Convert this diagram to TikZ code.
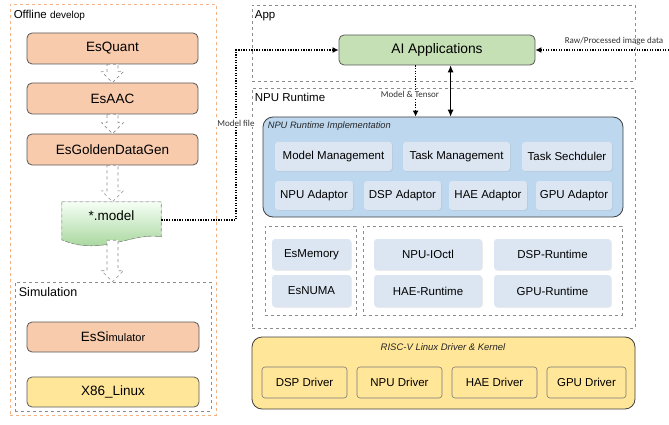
\documentclass[tikz,border=0pt]{standalone}
\usepackage{fontspec}
\setmainfont{Liberation Sans}
\newfontfamily\carl{Carlito}
\usetikzlibrary{arrows.meta,calc,shadows}
\definecolor{orfill}{HTML}{F8CBAD}
\definecolor{orline}{HTML}{F4B183}
\definecolor{grfill}{HTML}{C5E0B4}
\definecolor{blfill}{HTML}{BDD7EE}
\definecolor{inblue}{HTML}{DCE6F2}
\definecolor{yefill}{HTML}{FFE699}
\definecolor{dashgray}{HTML}{8C8C8C}
\definecolor{edge}{HTML}{595959}
\newcommand\hollowarr[2]{%
  \draw[hollow] let \p1=(#1), \p2=(#2) in
    (\x1-5.5pt,\y1) -- (\x1+5.5pt,\y1) -- (\x1+5.5pt,\y2+11pt) -- (\x1+11pt,\y2+11pt)
    -- (\x1,\y2) -- (\x1-11pt,\y2+11pt) -- (\x1-5.5pt,\y2+11pt) -- cycle;}
\begin{document}
\begin{tikzpicture}[x=1pt,y=-1pt,
  box/.style={inner sep=0pt, align=center},
  orbox/.style={box, rounded corners=5pt, draw=edge, line width=0.8pt, fill=orfill, font=\fontsize{13.5}{16}\selectfont},
  aibox/.style={box, rounded corners=5pt, draw=edge, line width=0.8pt, fill=grfill, font=\fontsize{13.8}{16}\selectfont},
  yebox/.style={box, rounded corners=5pt, draw=edge, line width=0.8pt, fill=yefill, font=\fontsize{13.5}{16}\selectfont},
  drvbox/.style={box, rounded corners=3pt, draw=edge!80, line width=0.6pt, fill=yefill, font=\fontsize{11.5}{14}\selectfont},
  inbox/.style={box, rounded corners=3pt, fill=inblue, drop shadow={opacity=0.15, shadow xshift=0.8pt, shadow yshift=-0.8pt}, font=\fontsize{11.5}{14}\selectfont},
  bigbox/.style={box, rounded corners=10pt, draw=black!75, line width=0.8pt},
  dbox/.style={box, draw=dashgray, dashed, line width=0.6pt},
  obox/.style={box, draw=orline, dashed, line width=0.8pt},
  ttl/.style={anchor=north west, inner sep=0pt, font=\fontsize{11.5}{14}\selectfont},
  small/.style={inner sep=1pt, fill=white, font=\carl\fontsize{9}{10}\selectfont, text=black!80},
  dotarrow/.style={line width=1.2pt, dash pattern=on 1.3pt off 1.3pt, -{Latex[length=6pt,width=6pt]}},
  hollow/.style={draw=dashgray, dashed, line width=0.6pt, fill=white}
]
\useasboundingbox (0,0) rectangle (669,425);

% ---------- left column ----------
\node[obox, minimum width=206, minimum height=411] (offline) at (113,209.5) {};
\node[ttl] (offlinet) at ($(offline.north west)+(4,6)$) {Offline {\fontsize{10}{12}\selectfont develop}};

\node[orbox, minimum width=171, minimum height=31] (esquant) at (112.5,48.5) {EsQuant};
\node[orbox, minimum width=171, minimum height=31] (esaac) at (112.5,98.5) {EsAAC};
\node[orbox, minimum width=171, minimum height=31] (esgold) at (112.5,149.5) {EsGoldenDataGen};

\node[box, minimum width=99, minimum height=36] (model) at (111.5,220) {};
\fill[top color=green!4!white, bottom color=grfill!85!green!90!black]
  (model.north west) -- (model.north east) -- ($(model.north east)+(0,35)$)
  .. controls ($(model.north east)+(-30,30)$) and ($(model.north west)+(40,55)$) .. ($(model.north west)+(0,38)$) -- cycle;
\draw[draw=dashgray, dashed, line width=0.6pt]
  (model.north west) -- (model.north east) -- ($(model.north east)+(0,35)$)
  .. controls ($(model.north east)+(-30,30)$) and ($(model.north west)+(40,55)$) .. ($(model.north west)+(0,38)$) -- cycle;
\node[font=\fontsize{13.5}{16}\selectfont] (modeltext) at ($(model.center)+(0,-4)$) {*.model};

\node[dbox, minimum width=196, minimum height=129] (sim) at (113,346.5) {};
\node[ttl, font=\fontsize{12.5}{15}\selectfont] (simt) at ($(sim.north west)+(4,6)$) {Simulation};
\node[orbox, minimum width=172, minimum height=30] (essim) at (113,337) {EsSi{\fontsize{11}{13}\selectfont mulator}};
\node[yebox, minimum width=172, minimum height=30] (x86) at (113,392) {X86\_Linux};

\hollowarr{esquant.south}{esaac.north}
\hollowarr{esaac.south}{esgold.north}
\hollowarr{esgold.south}{model.north}
\coordinate (modelbot) at ($(model.south)+(1,2)$);
\hollowarr{modelbot}{sim.north}

% ---------- right column ----------
\node[dbox, minimum width=383, minimum height=76] (app) at (443.5,43) {};
\node[ttl] (appt) at ($(app.north west)+(3,6)$) {App};
\node[aibox, minimum width=196, minimum height=30] (ai) at (437,50) {AI Applications};

\node[dbox, minimum width=383, minimum height=240] (npurt) at (443.5,208) {};
\node[ttl] (npurtt) at ($(npurt.north west)+(3,5)$) {NPU Runtime};

\node[bigbox, fill=blfill, minimum width=360, minimum height=100] (impl) at (443,167) {};
\node[anchor=north west, inner sep=0pt, font=\itshape\fontsize{9.3}{11}\selectfont, text=black!85] (implt) at ($(impl.north west)+(5,5)$) {NPU Runtime Implementation};

\node[inbox, minimum width=117, minimum height=29] (mm) at (333.5,156.5) {Model Management};
\node[inbox, minimum width=107, minimum height=29] (tm) at (456.5,156.5) {Task Management};
\node[inbox, minimum width=90, minimum height=29] (ts) at (567,156.5) {Task Sechduler};
\node[inbox, minimum width=78, minimum height=29] (npuad) at (314,195.5) {NPU Adaptor};
\node[inbox, minimum width=77, minimum height=29] (dspad) at (402.5,195.5) {DSP Adaptor};
\node[inbox, minimum width=78, minimum height=29] (haead) at (488,195.5) {HAE Adaptor};
\node[inbox, minimum width=76, minimum height=29] (gpuad) at (574,195.5) {GPU Adaptor};

\node[dbox, minimum width=91, minimum height=89] (memgrp) at (310.5,270.5) {};
\node[dbox, minimum width=259, minimum height=89] (rtgrp) at (492.5,270.5) {};
\node[inbox, minimum width=79, minimum height=31] (esmem) at (311.5,254.5) {EsMemory};
\node[inbox, minimum width=79, minimum height=32] (esnuma) at (311.5,291) {EsNUMA};
\node[inbox, minimum width=108, minimum height=31] (ioctl) at (428,254.5) {NPU-IOctl};
\node[inbox, minimum width=117, minimum height=31] (dsprt) at (552.5,254.5) {DSP-Runtime};
\node[inbox, minimum width=108, minimum height=32] (haert) at (428,291) {HAE-Runtime};
\node[inbox, minimum width=117, minimum height=32] (gpurt) at (552.5,291) {GPU-Runtime};

\node[bigbox, fill=yefill, minimum width=383, minimum height=72] (risc) at (443.5,373) {};
\node[inner sep=0pt, font=\itshape\fontsize{9.5}{11}\selectfont, text=black!85] (risct) at (443,347) {RISC-V Linux Driver \& Kernel};
\node[drvbox, minimum width=85, minimum height=31] (dspdrv) at (304.5,382.5) {DSP Driver};
\node[drvbox, minimum width=85, minimum height=31] (npudrv) at (399.5,382.5) {NPU Driver};
\node[drvbox, minimum width=85, minimum height=31] (haedrv) at (494.5,382.5) {HAE Driver};
\node[drvbox, minimum width=79, minimum height=31] (gpudrv) at (586.5,382.5) {GPU Driver};

% ---------- connectors ----------
\coordinate (mfbend) at (236,220);
\draw[dotarrow] (model.east) -- (mfbend) |- (ai.west);
\node[small] (mflabel) at (236,123) {Model file};

\coordinate (rawsrc) at (669,50);
\draw[dotarrow] (rawsrc) -- (ai.east);
\node[small, fill=none] (rawlabel) at (614,41) {Raw/Processed image data};

\coordinate (mtsrc) at ($(ai.south west)+(77,0)$);
\coordinate (mtdst) at ($(impl.north west)+(153,0)$);
\draw[dotarrow] (mtsrc) -- (mtdst);
\node[small] (mtlabel) at (410,94) {Model \& Tensor};

\coordinate (dbsrc) at ($(ai.south west)+(112,0)$);
\coordinate (dbdst) at ($(impl.north west)+(188,0)$);
\draw[line width=1pt, {Latex[length=7pt,width=6pt]}-{Latex[length=7pt,width=6pt]}] (dbsrc) -- (dbdst);
\end{tikzpicture}
\end{document}
